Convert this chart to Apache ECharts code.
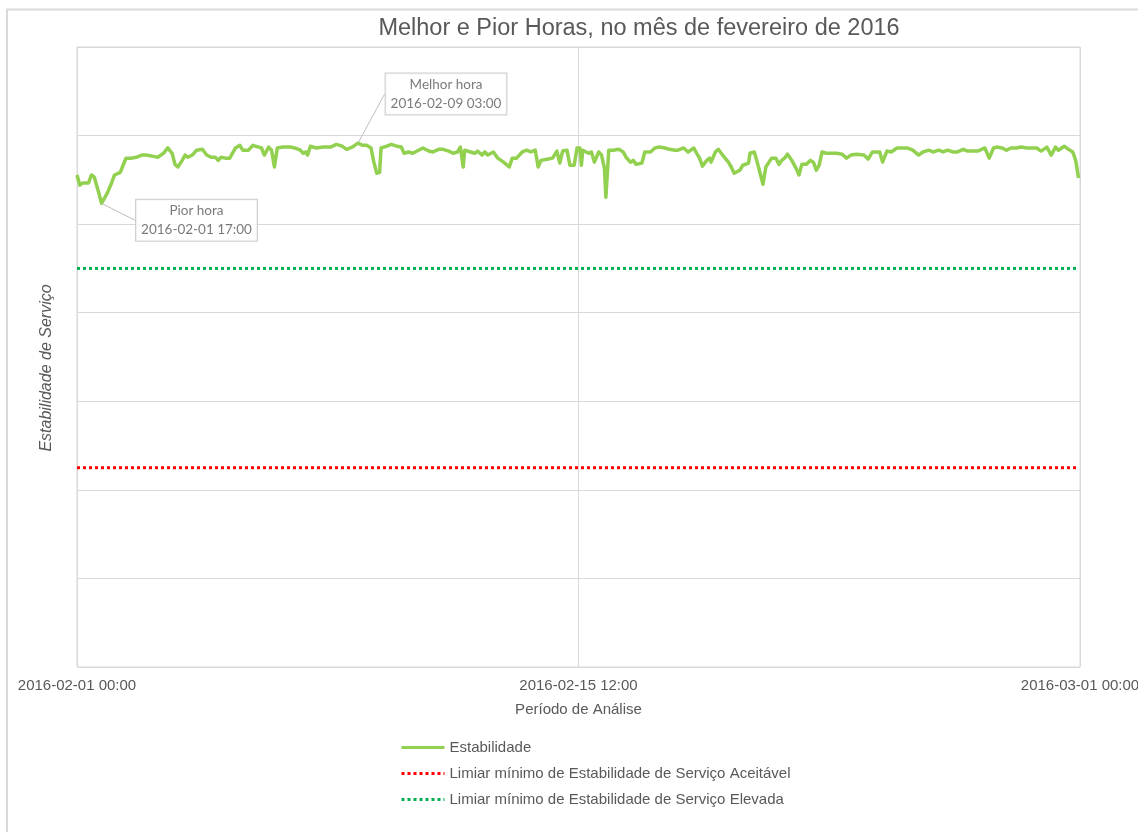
<!DOCTYPE html>
<html>
<head>
<meta charset="utf-8">
<title>Melhor e Pior Horas</title>
<script src="https://cdn.jsdelivr.net/npm/echarts@6/dist/echarts.min.js"></script>
<style>
  html, body { margin: 0; padding: 0; background: #ffffff; }
  #chart { width: 1138px; height: 832px; }
</style>
</head>
<body>
<div id="chart"></div>
<script>
// Hour offsets from 2016-02-01 00:00 (UTC) and the hourly service stability readings
const periodStart = Date.UTC(2016, 1, 1, 0, 0);
const periodHours = 696;            // February 2016 has 29 days
const tickStepHours = 348;          // start, midpoint, end

const hours = [0,2,4,8,10,12,15,17,21,24,26,30,32,34,38,41,45,48,53,56,60,63,66,68,70,73,75,77,80,83,87,90,93,96,98,100,103,106,110,113,115,119,122,126,128,130,133,135,137,139,
  143,148,151,155,157,159,160,162,166,171,176,180,184,187,191,195,198,201,204,206,208,210,211,215,218,222,225,227,230,233,237,240,244,247,251,254,258,261,264,266,268,269,273,276,
  278,281,283,285,289,292,296,300,302,305,309,312,315,318,320,322,327,330,333,335,337,340,342,345,347,349,350,351,355,357,359,362,364,366,367,369,372,376,379,381,384,386,388,392,394,398,401,404,408,411,415,
  417,421,424,428,430,432,434,437,439,440,443,445,448,452,454,456,460,462,466,467,470,472,474,476,478,482,485,487,489,491,493,496,499,501,503,506,509,511,513,515,517,520,524,527,531,534,537,541,546,549,552,
  557,559,562,565,569,572,576,580,584,587,591,594,598,601,604,608,611,615,618,622,625,630,633,636,638,642,645,648,652,655,659,662,666,669,673,676,679,681,685,688,691,693,695];

const stability = [111.1,108.8,109.3,109.3,111.1,110.6,107.2,104.7,107.0,109.3,111.1,111.7,113.3,114.9,114.9,115.1,115.6,115.6,115.3,115.1,116.0,117.2,116.0,113.5,112.9,114.4,115.6,115.1,115.6,116.7,116.9,115.6,115.1,115.1,114.4,115.1,114.9,114.9,117.2,117.8,116.7,116.7,117.8,117.4,117.2,115.6,117.4,116.7,112.9,117.2,
  117.4,117.4,117.2,116.7,116.0,116.3,115.6,117.6,117.2,117.4,117.4,118.0,117.6,116.9,117.4,118.3,117.8,117.8,117.2,114.0,111.5,111.7,117.2,117.6,118.0,117.6,117.4,116.0,116.3,116.0,116.7,117.2,116.5,116.3,116.9,116.9,116.5,116.0,116.3,117.4,112.9,116.7,116.3,116.0,
  116.5,115.6,116.3,115.6,116.3,114.9,114.0,112.9,114.9,114.9,116.3,116.7,116.3,116.7,112.9,114.4,114.7,114.9,116.5,113.8,116.5,116.7,113.3,113.3,117.2,117.2,113.3,116.7,116.0,116.3,114.0,116.3,115.6,112.6,106.1,116.7,116.7,116.9,116.3,115.1,114.0,114.4,113.5,113.8,116.3,116.3,117.2,117.4,117.2,116.9,116.7,
  116.7,117.2,116.3,117.2,116.0,114.9,113.1,114.4,114.9,114.0,116.3,116.9,115.6,114.0,112.9,111.5,112.2,113.3,113.8,116.0,116.3,114.0,111.5,109.0,112.9,114.9,114.9,113.5,114.4,114.9,115.8,114.4,112.6,111.1,113.5,113.5,114.4,114.0,112.2,113.3,116.3,116.0,116.0,116.0,115.8,114.9,115.6,115.8,115.6,114.7,116.3,
  116.3,114.0,116.5,116.3,117.2,117.2,117.2,116.7,115.6,116.3,116.7,116.3,116.7,116.3,116.7,116.3,116.3,116.9,116.5,116.5,116.5,117.2,114.9,117.2,117.4,117.2,116.7,117.2,117.2,117.4,117.2,117.2,117.2,116.5,117.4,115.6,117.4,116.7,117.6,116.9,116.3,114.4,110.4];

// Minimum stability thresholds
const acceptableThreshold = 45;
const elevatedThreshold = 90;

// Value scale of the stability axis
const yMin = 0, yMax = 140, yStep = 20;

const seriesNames = [
  'Estabilidade',
  'Limiar mínimo de Estabilidade de Serviço Aceitável',
  'Limiar mínimo de Estabilidade de Serviço Elevada'
];

const pad = n => String(n).padStart(2, '0');
function hourLabel(h) {
  const d = new Date(periodStart + h * 3600 * 1000);
  return d.getUTCFullYear() + '-' + pad(d.getUTCMonth() + 1) + '-' + pad(d.getUTCDate()) +
    ' ' + pad(d.getUTCHours()) + ':' + pad(d.getUTCMinutes());
}

const stabilityData = hours.map((h, i) => [h, stability[i]]);
const firstHour = hours[0], lastHour = hours[hours.length - 1];

// Best and worst hours of the month
let bestIdx = 0, worstIdx = 0;
stability.forEach((v, i) => {
  if (v > stability[bestIdx]) bestIdx = i;
  if (v < stability[worstIdx]) worstIdx = i;
});
const callouts = [
  { title: 'Melhor hora', idx: bestIdx, dx: 88, dy: -49 },
  { title: 'Pior hora', idx: worstIdx, dx: 95, dy: 17 }
];

const textColor = '#595959';
const gridColor = '#d9d9d9';
const baseFont = 'Liberation Sans, Arial, sans-serif';

const chart = echarts.init(document.getElementById('chart'), null, { renderer: 'canvas' });

chart.setOption({
  backgroundColor: '#ffffff',
  animation: false,
  textStyle: { fontFamily: baseFont },
  graphic: [{
    type: 'rect',
    silent: true,
    shape: { x: 7, y: 9.5, width: 1200, height: 900 },
    style: { fill: 'none', stroke: '#d9d9d9', lineWidth: 2 }
  }],
  title: {
    text: 'Melhor e Pior Horas, no mês de fevereiro de 2016',
    left: 634,
    top: 12,
    textAlign: 'center',
    textStyle: { fontSize: 23.5, fontWeight: 'normal', color: textColor, fontFamily: baseFont }
  },
  legend: {
    orient: 'vertical',
    left: 395,
    top: 735,
    itemWidth: 43,
    itemHeight: 14,
    itemGap: 11,
    itemStyle: { opacity: 0 },
    lineStyle: { width: 3 },
    data: seriesNames,
    textStyle: { fontSize: 15, color: textColor, fontFamily: baseFont }
  },
  grid: {
    left: 77,
    right: 58,
    top: 47,
    bottom: 165,
    outerBoundsMode: 'none',
    containLabel: false,
    show: true,
    borderColor: gridColor,
    borderWidth: 1
  },
  xAxis: {
    type: 'value',
    min: 0,
    max: periodHours,
    interval: tickStepHours,
    name: 'Período de Análise',
    nameLocation: 'middle',
    nameGap: 35,
    nameTextStyle: { fontSize: 15, color: textColor },
    axisLine: { show: false },
    axisTick: { show: false },
    splitLine: { show: true, lineStyle: { color: gridColor, width: 1 } },
    axisLabel: {
      margin: 11,
      fontSize: 15,
      color: textColor,
      showMinLabel: true,
      showMaxLabel: true,
      formatter: v => hourLabel(v)
    }
  },
  yAxis: {
    type: 'value',
    min: yMin,
    max: yMax,
    interval: yStep,
    name: 'Estabilidade de Serviço',
    nameLocation: 'middle',
    nameGap: 22,
    nameTextStyle: { fontSize: 16, fontStyle: 'italic', color: textColor, padding: [0, 22, 0, 0] },
    axisLine: { show: false },
    axisTick: { show: false },
    axisLabel: { show: false },
    splitLine: { show: true, lineStyle: { color: gridColor, width: 1 } }
  },
  series: [
    {
      name: seriesNames[0],
      type: 'line',
      data: stabilityData,
      showSymbol: false,
      symbol: 'none',
      z: 5,
      lineStyle: { color: '#92d050', width: 3.5, join: 'round' },
      itemStyle: { color: '#92d050' }
    },
    {
      name: seriesNames[1],
      type: 'line',
      data: [[firstHour, acceptableThreshold], [lastHour, acceptableThreshold]],
      symbol: 'none',
      z: 4,
      lineStyle: { color: '#ff0000', width: 3, type: [3, 3] },
      itemStyle: { color: '#ff0000' }
    },
    {
      name: seriesNames[2],
      type: 'line',
      data: [[firstHour, elevatedThreshold], [lastHour, elevatedThreshold]],
      symbol: 'none',
      z: 4,
      lineStyle: { color: '#00b050', width: 3, type: [3, 3] },
      itemStyle: { color: '#00b050' }
    },
    {
      name: 'anotacoes',
      type: 'scatter',
      silent: true,
      z: 6,
      symbolSize: 1,
      itemStyle: { color: 'rgba(0,0,0,0)' },
      data: callouts.map(c => ({
        value: [hours[c.idx], stability[c.idx]],
        label: {
          show: true,
          position: 'inside',
          formatter: c.title + '\n' + hourLabel(hours[c.idx]),
          fontFamily: 'Lato, Noto Sans, sans-serif',
          fontSize: 13.5,
          lineHeight: 19,
          color: textColor,
          align: 'center',
          backgroundColor: '#ffffff',
          borderColor: '#bfbfbf',
          borderWidth: 1,
          padding: [2, 5, 1, 5]
        }
      })),
      labelLine: { show: true, lineStyle: { color: '#bfbfbf', width: 1 } },
      labelLayout: params => {
        const c = callouts[params.dataIndex];
        return { dx: c.dx, dy: c.dy };
      }
    }
  ]
});
</script>
</body>
</html>
